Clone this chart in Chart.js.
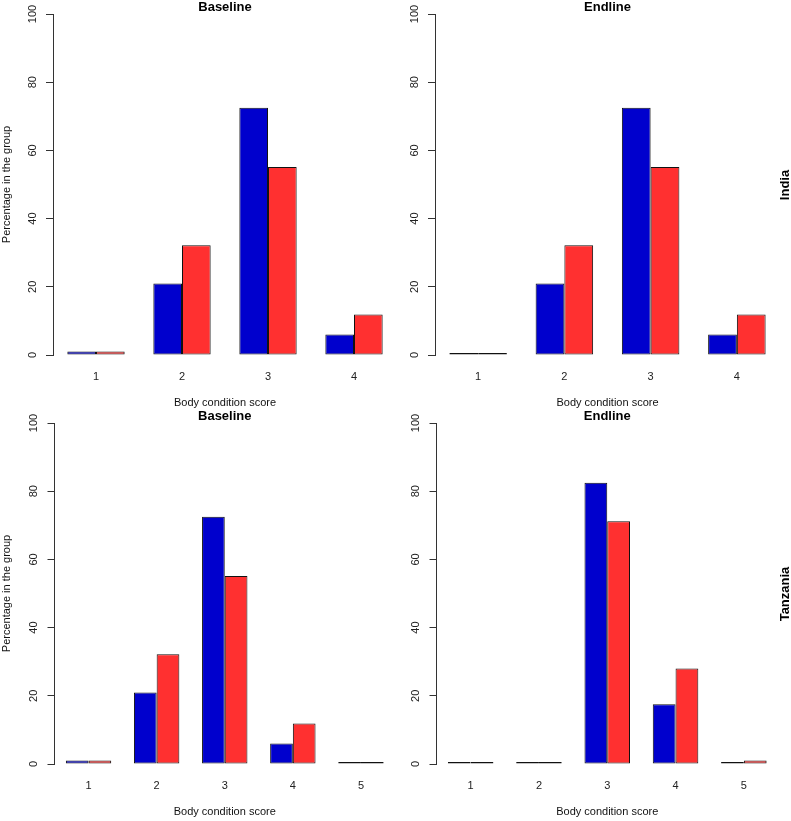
<!DOCTYPE html>
<html>
<head>
<meta charset="utf-8">
<script src="https://cdn.jsdelivr.net/npm/chart.js@4.4.0/dist/chart.umd.min.js"></script>
<style>
  body { margin: 0; background: #fff; width: 791px; height: 821px; position: relative; overflow: hidden; font-family: "Liberation Sans", Arial, sans-serif; }
  canvas { position: absolute; }
  .row { position: absolute; font-weight: bold; font-size: 13px; color: #000; white-space: nowrap; transform: translate(-50%, -50%) rotate(-90deg); }
</style>
</head>
<body>
<canvas id="c1" width="398" height="412" style="left:0px;top:0px"></canvas>
<canvas id="c2" width="396" height="412" style="left:395px;top:0px"></canvas>
<canvas id="c3" width="398" height="412" style="left:0px;top:409px"></canvas>
<canvas id="c4" width="396" height="412" style="left:395px;top:409px"></canvas>
<div class="row" style="left:784px;top:185px">India</div>
<div class="row" style="left:784px;top:594px">Tanzania</div>
<script>
// categorias (puntuacion de condicion corporal)
var cats4 = ["1", "2", "3", "4"];
var cats5 = ["1", "2", "3", "4", "5"];

// India
var indiaBaseBlue = [1, 21, 72.5, 6];
var indiaBaseRed = [1, 32.2, 55.1, 11.9];
var indiaEndBlue = [0, 21, 72.5, 6];
var indiaEndRed = [0, 32.2, 55.1, 11.9];

// Tanzania
var tanzBaseBlue = [1, 21, 72.5, 6, 0];
var tanzBaseRed = [1, 32.2, 55.1, 11.9, 0];
var tanzEndBlue = [0, 0, 82.5, 17.5, 0];
var tanzEndRed = [0, 0, 71.2, 28, 1];

var yMin = 0, yMax = 100, yStep = 20;

var FONT = "'Liberation Sans', Arial, sans-serif";

function makePanel(id, cats, blue, red, title, yTitle, axisW, padRight) {
  var ctx = document.getElementById(id).getContext("2d");
  return new Chart(ctx, {
    type: "bar",
    data: {
      labels: cats,
      datasets: [
        { label: "Group 1", data: blue, backgroundColor: "#0000CD" },
        { label: "Group 2", data: red, backgroundColor: "#FF3030" }
      ]
    },
    options: {
      responsive: false,
      animation: false,
      devicePixelRatio: 1,
      layout: { padding: { left: 0, right: padRight, top: 0, bottom: 0 } },
      datasets: {
        bar: {
          borderColor: "#111",
          borderWidth: 1,
          borderSkipped: false,
          barPercentage: 1,
          categoryPercentage: 2 / 3,
          minBarLength: 2
        }
      },
      plugins: {
        legend: { display: false },
        tooltip: { enabled: false },
        title: {
          display: true,
          text: title,
          fullSize: false,
          color: "#000",
          font: { family: FONT, size: 13, weight: "bold", lineHeight: 1 },
          padding: { top: 1, bottom: 0 }
        }
      },
      scales: {
        x: {
          grid: { display: false, drawTicks: false },
          border: { display: false },
          ticks: { color: "#222", padding: 15, font: { family: FONT, size: 11 } },
          title: {
            display: true,
            text: "Body condition score",
            color: "#111",
            font: { family: FONT, size: 11, lineHeight: 1.2 },
            padding: { top: 0, bottom: 2.4 }
          },
          afterFit: function (scale) { scale.height = 57; }
        },
        y: {
          min: yMin,
          max: yMax,
          grid: { display: true, drawOnChartArea: false, drawTicks: true, tickLength: 7, color: "#333" },
          border: { display: true, color: "#333", width: 1 },
          ticks: {
            stepSize: yStep,
            minRotation: 90,
            maxRotation: 90,
            crossAlign: "center",
            padding: 4,
            color: "#222",
            font: { family: FONT, size: 11 }
          },
          title: {
            display: yTitle,
            text: "Percentage in the group",
            color: "#111",
            font: { family: FONT, size: 11, lineHeight: 1.2 },
            padding: { top: 0, bottom: 0 }
          },
          afterFit: function (scale) { scale.width = axisW; }
        }
      }
    }
  });
}

makePanel("c1", cats4, indiaBaseBlue, indiaBaseRed, "Baseline", true, 53, 1);
makePanel("c2", cats4, indiaEndBlue, indiaEndRed, "Endline", false, 40, 11);
makePanel("c3", cats5, tanzBaseBlue, tanzBaseRed, "Baseline", true, 54.5, 3);
makePanel("c4", cats5, tanzEndBlue, tanzEndRed, "Endline", false, 41.5, 13);
</script>
</body>
</html>
